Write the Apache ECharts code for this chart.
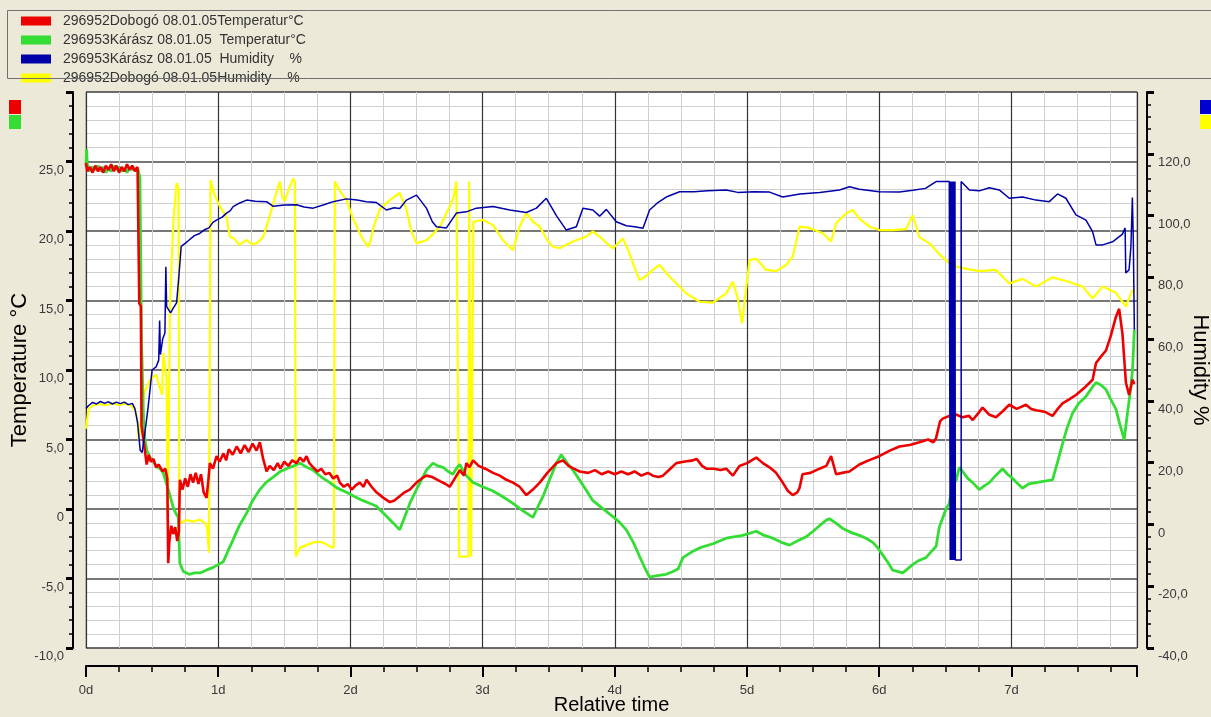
<!DOCTYPE html>
<html>
<head>
<meta charset="utf-8">
<title>Temperature / Humidity</title>
<script src="https://cdn.jsdelivr.net/npm/echarts@6/dist/echarts.min.js"></script>
<style>
  html, body { margin: 0; padding: 0; background: #ECE9D8; }
  #main { width: 1211px; height: 717px; }
</style>
</head>
<body>
<div id="main"></div>
<script>
// series names (legend order)
const seriesNames = [
  '296952Dobogó 08.01.05Temperatur°C',
  '296953Kárász 08.01.05  Temperatur°C',
  '296953Kárász 08.01.05  Humidity    %',
  '296952Dobogó 08.01.05Humidity    %'
]
const dayTicks = [0, 1, 2, 3, 4, 5, 6, 7]

// [relative time in days, °C]
const dobogoTemp = [
  [0, 24.9], [0.01, 24.3], [0.03, 24.6], [0.05, 24.2], [0.07, 24.7], [0.09, 24.3], [0.11, 24.6], [0.13, 24.2],
  [0.15, 24.7], [0.17, 24.4], [0.19, 24.8], [0.21, 24.3], [0.23, 24.7], [0.25, 24.2], [0.27, 24.6], [0.29, 24.3],
  [0.31, 24.8], [0.33, 24.4], [0.35, 24.7], [0.37, 24.3], [0.39, 24.6], [0.398, 24.5],
  [0.403, 14.8], [0.415, 14.6], [0.42, 6.0], [0.44, 4.6], [0.459, 3.2], [0.475, 3.9], [0.49, 3.4], [0.51, 3.6],
  [0.53, 3.0], [0.55, 3.2], [0.58, 2.7], [0.6, 2.9], [0.615, 2.2],
  [0.622, -3.9], [0.63, -2.4], [0.645, -1.2], [0.66, -1.8], [0.675, -1.3], [0.69, -2.3], [0.703, -1.6],
  [0.71, 2.1], [0.73, 1.4], [0.75, 2.2], [0.77, 1.6], [0.79, 2.5], [0.81, 1.9], [0.83, 2.6], [0.85, 1.8],
  [0.87, 2.5], [0.89, 1.2], [0.912, 0.8], [0.925, 2.0], [0.937, 3.3], [0.96, 2.9], [0.988, 3.8], [1.01, 3.4],
  [1.04, 4.0], [1.06, 3.5], [1.08, 4.3], [1.11, 3.9], [1.14, 4.5], [1.17, 4.0], [1.2, 4.6], [1.23, 4.1],
  [1.26, 4.7], [1.29, 4.2], [1.315, 4.8], [1.34, 3.6], [1.366, 2.7], [1.39, 3.1], [1.42, 2.8], [1.45, 3.3],
  [1.47, 2.9], [1.5, 3.4], [1.53, 3.1], [1.56, 3.5], [1.592, 3.3], [1.62, 3.7], [1.645, 3.4], [1.668, 3.8],
  [1.69, 3.3], [1.718, 3.0], [1.75, 2.7], [1.78, 2.9], [1.81, 2.5], [1.84, 2.6], [1.87, 2.2], [1.9, 2.4],
  [1.92, 1.9], [1.95, 1.6], [1.98, 1.8], [2.01, 1.4], [2.04, 1.7], [2.071, 1.9], [2.1, 1.6], [2.122, 2.1],
  [2.16, 1.6], [2.197, 1.2], [2.25, 0.8], [2.298, 0.5], [2.33, 0.6], [2.37, 0.9], [2.41, 1.2], [2.449, 1.4],
  [2.5, 1.9], [2.54, 2.2], [2.575, 2.4], [2.62, 2.3], [2.676, 2.0], [2.72, 1.8], [2.751, 1.6], [2.79, 2.2],
  [2.827, 2.8], [2.86, 2.4], [2.877, 3.3], [2.9, 3.0], [2.928, 3.5], [2.97, 3.1], [3.02, 2.9], [3.079, 2.6],
  [3.13, 2.4], [3.18, 2.1], [3.23, 1.9], [3.28, 1.6], [3.331, 1.0], [3.38, 1.4], [3.432, 1.9], [3.49, 2.6],
  [3.558, 3.3], [3.608, 3.5], [3.65, 3.1], [3.69, 2.9], [3.734, 2.7], [3.8, 2.6], [3.85, 2.8], [3.9, 2.5],
  [3.95, 2.7], [4.0, 2.5], [4.05, 2.7], [4.1, 2.5], [4.15, 2.7], [4.2, 2.4], [4.25, 2.6], [4.288, 2.4],
  [4.33, 2.3], [4.364, 2.4], [4.42, 2.9], [4.465, 3.3], [4.52, 3.4], [4.59, 3.5], [4.62, 3.6], [4.66, 3.1],
  [4.692, 2.9], [4.75, 2.9], [4.8, 2.8], [4.843, 2.9], [4.893, 2.4], [4.943, 3.1], [5.0, 3.3], [5.07, 3.7],
  [5.12, 3.3], [5.17, 3.0], [5.22, 2.6], [5.27, 1.9], [5.31, 1.3], [5.346, 1.0], [5.38, 1.2], [5.397, 1.5],
  [5.42, 2.5], [5.48, 2.6], [5.548, 2.9], [5.6, 3.1], [5.636, 3.8], [5.674, 2.5], [5.72, 2.6], [5.775, 2.7],
  [5.85, 3.2], [5.92, 3.5], [6.0, 3.8], [6.08, 4.2], [6.153, 4.5], [6.23, 4.6], [6.304, 4.8], [6.37, 5.0],
  [6.41, 4.8], [6.43, 5.1], [6.46, 6.3], [6.48, 6.5], [6.53, 6.7], [6.58, 6.8], [6.63, 6.6], [6.68, 6.7],
  [6.707, 6.4], [6.75, 6.9], [6.782, 7.3], [6.83, 6.8], [6.883, 6.6], [6.93, 7.0], [6.984, 7.5], [7.04, 7.2],
  [7.11, 7.5], [7.15, 7.2], [7.186, 7.1], [7.25, 7.0], [7.311, 6.7], [7.35, 7.2], [7.387, 7.6], [7.44, 7.9],
  [7.488, 8.2], [7.55, 8.7], [7.614, 9.3], [7.64, 10.5], [7.68, 11.0], [7.715, 11.4], [7.75, 12.4], [7.79, 13.8],
  [7.815, 14.4], [7.84, 12.6], [7.866, 9.1], [7.89, 8.2], [7.916, 9.3], [7.93, 9.0]
]

const karaszTemp = [
  [0, 24.6], [0.004, 25.9], [0.01, 24.8], [0.03, 24.3], [0.05, 24.6], [0.07, 24.4], [0.09, 24.7], [0.11, 24.3],
  [0.13, 24.6], [0.15, 24.2], [0.17, 24.5], [0.19, 24.3], [0.21, 24.7], [0.23, 24.4], [0.25, 24.6], [0.27, 24.3],
  [0.29, 24.5], [0.31, 24.2], [0.33, 24.6], [0.35, 24.4], [0.37, 24.5], [0.395, 24.4], [0.408, 23.8],
  [0.42, 12.0], [0.435, 6.5], [0.446, 5.0], [0.46, 4.2], [0.48, 3.8], [0.509, 3.4], [0.54, 3.0], [0.56, 2.9],
  [0.584, 2.6], [0.61, 1.8], [0.64, 0.8], [0.66, 0.1], [0.685, -0.4], [0.698, -0.6], [0.71, -3.9], [0.736, -4.5],
  [0.78, -4.7], [0.82, -4.6], [0.862, -4.6], [0.91, -4.4], [0.962, -4.2], [1.0, -4.0], [1.038, -3.8], [1.075, -3.0],
  [1.113, -2.2], [1.16, -1.2], [1.215, -0.3], [1.26, 0.6], [1.315, 1.4], [1.36, 1.9], [1.416, 2.3], [1.47, 2.7],
  [1.517, 2.9], [1.57, 3.1], [1.618, 3.3], [1.67, 3.0], [1.718, 2.8], [1.78, 2.3], [1.844, 1.9], [1.9, 1.5],
  [1.97, 1.2], [2.03, 0.9], [2.096, 0.6], [2.15, 0.4], [2.197, 0.2], [2.26, -0.4], [2.323, -1.0], [2.373, -1.5],
  [2.41, -0.6], [2.449, 0.4], [2.51, 1.6], [2.575, 2.8], [2.625, 3.3], [2.66, 3.1], [2.701, 3.0], [2.74, 2.7],
  [2.776, 2.5], [2.8, 2.9], [2.827, 3.2], [2.85, 2.8], [2.877, 2.4], [2.928, 1.9], [3.0, 1.6], [3.079, 1.3],
  [3.15, 0.9], [3.23, 0.4], [3.3, -0.1], [3.381, -0.6], [3.42, 0.2], [3.457, 0.9], [3.51, 2.2], [3.558, 3.3],
  [3.595, 3.9], [3.64, 3.3], [3.683, 2.8], [3.76, 1.7], [3.834, 0.6], [3.9, 0.1], [3.986, -0.55], [4.04, -1.0],
  [4.087, -1.5], [4.14, -2.4], [4.187, -3.4], [4.23, -4.3], [4.263, -4.9], [4.32, -4.8], [4.389, -4.7], [4.44, -4.5],
  [4.48, -4.3], [4.515, -3.5], [4.58, -3.1], [4.641, -2.8], [4.742, -2.5], [4.843, -2.1], [4.968, -1.9], [5.07, -1.6],
  [5.13, -1.9], [5.195, -2.1], [5.26, -2.4], [5.321, -2.6], [5.38, -2.3], [5.447, -2.0], [5.5, -1.6], [5.548, -1.2],
  [5.6, -0.8], [5.624, -0.7], [5.67, -1.0], [5.724, -1.4], [5.79, -1.7], [5.85, -1.9], [5.9, -2.1], [5.951, -2.4],
  [5.99, -2.8], [6.026, -3.3], [6.07, -3.9], [6.102, -4.4], [6.178, -4.6], [6.253, -4.0], [6.3, -3.7], [6.354, -3.5],
  [6.4, -3.0], [6.43, -2.7], [6.455, -1.3], [6.505, 0.0], [6.53, 0.4], [6.555, 1.9], [6.58, 2.0], [6.606, 3.0],
  [6.631, 2.7], [6.67, 2.2], [6.707, 1.9], [6.757, 1.4], [6.8, 1.7], [6.833, 1.9], [6.88, 2.4], [6.933, 2.9],
  [6.97, 2.5], [7.009, 2.2], [7.05, 1.8], [7.085, 1.5], [7.13, 1.8], [7.186, 1.9], [7.25, 2.0], [7.311, 2.1],
  [7.35, 3.4], [7.387, 4.7], [7.42, 5.8], [7.463, 6.9], [7.51, 7.6], [7.564, 8.1], [7.6, 8.6], [7.64, 9.1],
  [7.68, 8.9], [7.715, 8.6], [7.75, 7.9], [7.79, 7.2], [7.82, 6.1], [7.853, 5.0], [7.878, 6.9], [7.9, 8.5],
  [7.916, 10.0], [7.93, 12.9]
]

// [relative time in days, %]
const karaszHum = [
  [0, 37.5], [0.02, 38.5], [0.05, 39.5], [0.08, 39], [0.11, 39.8], [0.14, 39.2], [0.17, 39.7], [0.2, 39],
  [0.23, 39.6], [0.26, 39.1], [0.29, 39.6], [0.32, 38.8], [0.35, 39.2], [0.37, 37.5], [0.39, 33], [0.41, 24],
  [0.425, 23.3], [0.445, 29.6], [0.47, 38], [0.49, 46], [0.5, 50], [0.53, 51], [0.55, 53.2], [0.557, 66],
  [0.563, 55], [0.58, 60], [0.597, 62], [0.604, 83.4], [0.61, 70.5], [0.64, 68.5], [0.66, 70], [0.685, 71.7],
  [0.7, 79], [0.72, 90], [0.75, 91], [0.78, 92.1], [0.82, 93.5], [0.86, 94.2], [0.9, 95.5], [0.93, 96],
  [0.96, 97.8], [0.99, 98.6], [1.03, 99.5], [1.063, 100.8], [1.09, 101.5], [1.113, 102.9], [1.16, 104], [1.215, 105],
  [1.28, 104.6], [1.366, 104.5], [1.416, 103], [1.5, 103.4], [1.592, 103.5], [1.65, 102.8], [1.718, 102.4], [1.8, 103.5],
  [1.869, 104.5], [1.97, 105.4], [2.05, 105], [2.12, 104.5], [2.197, 104.2], [2.273, 101.8], [2.33, 102.5], [2.373, 102.3],
  [2.424, 105], [2.5, 106.6], [2.575, 102.4], [2.62, 98], [2.651, 96.4], [2.726, 96], [2.802, 100.8], [2.877, 101.2],
  [2.953, 102.4], [3.079, 102.9], [3.205, 101.8], [3.331, 101], [3.407, 102.4], [3.482, 105.6], [3.558, 100], [3.633, 95.3],
  [3.709, 96.4], [3.759, 102.4], [3.834, 101.8], [3.885, 99.8], [3.936, 102], [4.011, 98], [4.087, 96.7], [4.15, 96.4],
  [4.213, 95.9], [4.263, 101.8], [4.32, 104], [4.389, 106], [4.49, 107.7], [4.6, 107.7], [4.7, 108], [4.843, 108.3],
  [4.93, 107.5], [5.05, 107.7], [5.17, 107.6], [5.27, 106], [5.4, 107], [5.55, 107.5], [5.7, 108.3], [5.775, 109.3],
  [5.85, 108.5], [6.0, 107.7], [6.153, 107.6], [6.254, 108.2], [6.35, 108.8], [6.43, 111], [6.53, 111],
  // logger dropout: thick left edge of the bar, then the thin right edge
  [6.537, 111], [6.537, -11.5], [6.541, -11.5], [6.541, 111], [6.545, 111], [6.545, -11.5], [6.549, -11.5], [6.549, 111],
  [6.553, 111], [6.553, -11.5], [6.557, -11.5], [6.557, 111], [6.561, 111], [6.561, -11.5], [6.565, -11.5], [6.565, 111],
  [6.569, 111], [6.569, -11.5], [6.573, -11.5], [6.573, 111], [6.576, 111], [6.576, -11.5], [6.62, -11.5], [6.62, 111],
  [6.682, 108.3], [6.757, 108], [6.833, 109], [6.908, 108.3], [6.984, 105.6], [7.085, 106], [7.186, 105], [7.286, 104.5],
  [7.349, 107], [7.412, 105.6], [7.488, 100.2], [7.564, 98.5], [7.614, 94.8], [7.64, 90.5], [7.69, 90.5], [7.765, 91.5],
  [7.84, 94], [7.86, 96], [7.865, 81.4], [7.878, 81.4], [7.89, 82.4], [7.904, 90], [7.915, 105.8], [7.922, 92], [7.93, 63]
]

const dobogoHum = [
  [0, 31], [0.02, 37.5], [0.05, 38.5], [0.1, 39], [0.15, 38.6], [0.2, 39.2], [0.25, 38.7], [0.3, 39.1],
  [0.34, 38.5], [0.37, 37], [0.385, 35], [0.4, 27.3], [0.415, 33], [0.44, 42.6], [0.484, 46.8], [0.53, 48.5],
  [0.56, 44], [0.575, 42], [0.585, 55.5], [0.6, 56], [0.61, 47], [0.618, 1.0], [0.628, 40], [0.635, 70.5],
  [0.66, 97.6], [0.685, 110.5], [0.7, 109], [0.706, 0.4], [0.73, 0.8], [0.76, 1.4], [0.81, 0.9], [0.86, 1.5],
  [0.9, 0.5], [0.915, -0.7], [0.93, -9.2], [0.937, -9.2], [0.942, 111.5], [0.97, 107], [1.013, 102.9], [1.063, 99.6],
  [1.088, 93.2], [1.12, 92.6], [1.16, 90.5], [1.215, 92.1], [1.25, 90.8], [1.29, 91], [1.34, 93], [1.391, 100],
  [1.43, 106], [1.466, 111], [1.485, 106], [1.504, 104.7], [1.53, 108], [1.567, 112], [1.58, 111], [1.587, -10.4],
  [1.62, -7.5], [1.668, -6.7], [1.72, -5.8], [1.769, -5.6], [1.81, -6.2], [1.857, -7.4], [1.875, -7.4], [1.882, 111],
  [1.92, 108], [1.97, 105], [2.02, 99], [2.071, 94.3], [2.1, 92], [2.134, 89.9], [2.147, 91], [2.18, 97],
  [2.222, 102], [2.298, 105], [2.373, 107.3], [2.424, 102], [2.46, 95], [2.5, 91], [2.575, 92], [2.625, 94],
  [2.676, 96.4], [2.751, 102.9], [2.78, 106], [2.802, 111], [2.822, -10.4], [2.893, -10.4], [2.898, 111], [2.908, 111],
  [2.913, -10.4], [2.925, -10.4], [2.93, 98], [3.003, 98.6], [3.079, 96.9], [3.154, 92], [3.23, 88.8], [3.28, 96.4],
  [3.331, 100.9], [3.38, 98], [3.432, 96.4], [3.49, 92], [3.532, 89.9], [3.583, 89.4], [3.63, 90.5], [3.683, 91.6],
  [3.784, 93.2], [3.834, 94.9], [3.885, 93.2], [3.94, 91], [3.986, 89.4], [4.061, 92.6], [4.1, 89], [4.137, 84.5],
  [4.187, 79.1], [4.24, 80.5], [4.288, 82.4], [4.339, 84], [4.414, 80.2], [4.49, 77], [4.54, 74.8], [4.641, 72.1],
  [4.742, 71.8], [4.843, 74.8], [4.893, 78.6], [4.931, 73], [4.963, 65.1], [4.981, 72], [5.019, 85.6], [5.07, 86],
  [5.145, 82.4], [5.221, 82], [5.296, 84], [5.346, 86.7], [5.397, 96.4], [5.472, 96], [5.573, 94.3], [5.636, 91.6],
  [5.674, 97.5], [5.75, 100.7], [5.8, 101.8], [5.85, 99], [5.926, 96.4], [6.001, 95.3], [6.102, 95.3], [6.203, 95.6],
  [6.253, 100.1], [6.304, 93], [6.379, 91], [6.455, 87.5], [6.53, 84.5], [6.58, 83.6], [6.631, 83], [6.757, 82],
  [6.883, 82.4], [6.984, 78], [7.085, 79.5], [7.186, 77], [7.311, 80], [7.438, 78.5], [7.538, 77], [7.614, 73.2],
  [7.69, 77], [7.79, 75], [7.866, 70.5], [7.916, 76], [7.93, 75]
]

const FONT = 'Liberation Sans, Arial, sans-serif'
const colors = ['#ee0000', '#33dd33', '#0000a8', '#ffff00']

// 25,0 style labels
function commaLabel (hideAt) {
  return v => {
    if (v === hideAt) return ''
    if (v === 0) return '0'
    return v.toFixed(1).replace('.', ',')
  }
}

function lineSeries (idx, data, axis, width, z) {
  return {
    name: seriesNames[idx],
    type: 'line',
    yAxisIndex: axis,
    data: data,
    showSymbol: false,
    symbol: 'none',
    z: z,
    itemStyle: { color: colors[idx] },
    lineStyle: { color: colors[idx], width: width }
  }
}

const chart = echarts.init(document.getElementById('main'))

const yAxisCommon = {
  type: 'value',
  axisLine: { show: true, onZero: false, lineStyle: { color: '#000', width: 2 } },
  axisTick: { show: true, length: 7, lineStyle: { color: '#000', width: 3 } },
  minorTick: { show: true, splitNumber: 5, length: 4, lineStyle: { color: '#000', width: 1.5 } },
  axisLabel: {
    color: '#3a3a3a', fontSize: 13, fontFamily: FONT,
    verticalAlign: 'top', padding: [2, 0, 0, 0]
  },
  nameLocation: 'middle',
  nameMoveOverlap: false,
  nameTextStyle: { fontSize: 22, color: '#000', fontFamily: FONT }
}

const option = {
  backgroundColor: '#ECE9D8',
  animation: false,
  textStyle: { fontFamily: FONT },
  grid: {
    left: 86, right: 74, top: 92, bottom: 69,
    containLabel: false,
    outerBoundsMode: 'none',
    show: true, backgroundColor: '#fff', borderColor: '#a0a0a0', borderWidth: 1
  },
  legend: {
    data: seriesNames,
    orient: 'vertical',
    left: 21, top: 13,
    padding: 0,
    icon: 'rect',
    itemWidth: 30, itemHeight: 9, itemGap: 3,
    selectedMode: false,
    textStyle: { fontSize: 14, lineHeight: 16, color: '#333', fontFamily: FONT, padding: [0, 0, 0, 7] }
  },
  graphic: [
    { type: 'rect', shape: { x: 7.5, y: 10.5, width: 1215, height: 68 }, style: { fill: 'none', stroke: '#707070', lineWidth: 1 }, z: 100 },
    { type: 'rect', shape: { x: 9, y: 100, width: 12, height: 14 }, style: { fill: '#ee0000' } },
    { type: 'rect', shape: { x: 9, y: 115, width: 12, height: 14 }, style: { fill: '#33dd33' } },
    { type: 'rect', shape: { x: 1200, y: 100, width: 11, height: 14 }, style: { fill: '#0000d0' } },
    { type: 'rect', shape: { x: 1200, y: 115, width: 11, height: 14 }, style: { fill: '#ffff00' } }
  ],
  xAxis: {
    type: 'value',
    min: 0, max: 7.95, interval: 1,
    offset: 18,
    axisLine: { show: true, onZero: false, lineStyle: { color: '#000', width: 2 } },
    axisTick: { show: true, length: 11, lineStyle: { color: '#000', width: 2 } },
    minorTick: { show: true, splitNumber: 4, length: 6, lineStyle: { color: '#000', width: 1.5 } },
    splitLine: { show: true, lineStyle: { color: '#333', width: 1.2 } },
    minorSplitLine: { show: true, lineStyle: { color: '#cfcfcf', width: 1 } },
    axisLabel: {
      margin: 18, color: '#3a3a3a', fontSize: 13, fontFamily: FONT,
      formatter: v => dayTicks.includes(v) ? v + 'd' : ''
    },
    name: 'Relative time',
    nameLocation: 'middle',
    nameMoveOverlap: false,
    nameGap: 29,
    nameTextStyle: { fontSize: 20, color: '#000', fontFamily: FONT }
  },
  yAxis: [
    Object.assign({}, yAxisCommon, {
      position: 'left', offset: 13,
      min: -10, max: 30, interval: 5,
      splitLine: { show: true, lineStyle: { color: '#4a4a4a', width: 1.5 } },
      minorSplitLine: { show: true, lineStyle: { color: '#cfcfcf', width: 1 } },
      axisLabel: Object.assign({}, yAxisCommon.axisLabel, { margin: 9, formatter: commaLabel(30) }),
      name: 'Temperature °C',
      nameGap: 42
    }),
    Object.assign({}, yAxisCommon, {
      position: 'right', offset: 10,
      min: -40, max: 140, interval: 20,
      splitLine: { show: false },
      minorSplitLine: { show: false },
      axisLabel: Object.assign({}, yAxisCommon.axisLabel, { margin: 11, formatter: commaLabel(140) }),
      name: 'Humidity %',
      nameRotate: -90,
      nameGap: 42
    })
  ],
  series: [
    lineSeries(0, dobogoTemp, 0, 2.6, 4),
    lineSeries(1, karaszTemp, 0, 2.8, 3),
    lineSeries(2, karaszHum, 1, 1.5, 5),
    lineSeries(3, dobogoHum, 1, 2.2, 2)
  ]
}

chart.setOption(option)
</script>
</body>
</html>
